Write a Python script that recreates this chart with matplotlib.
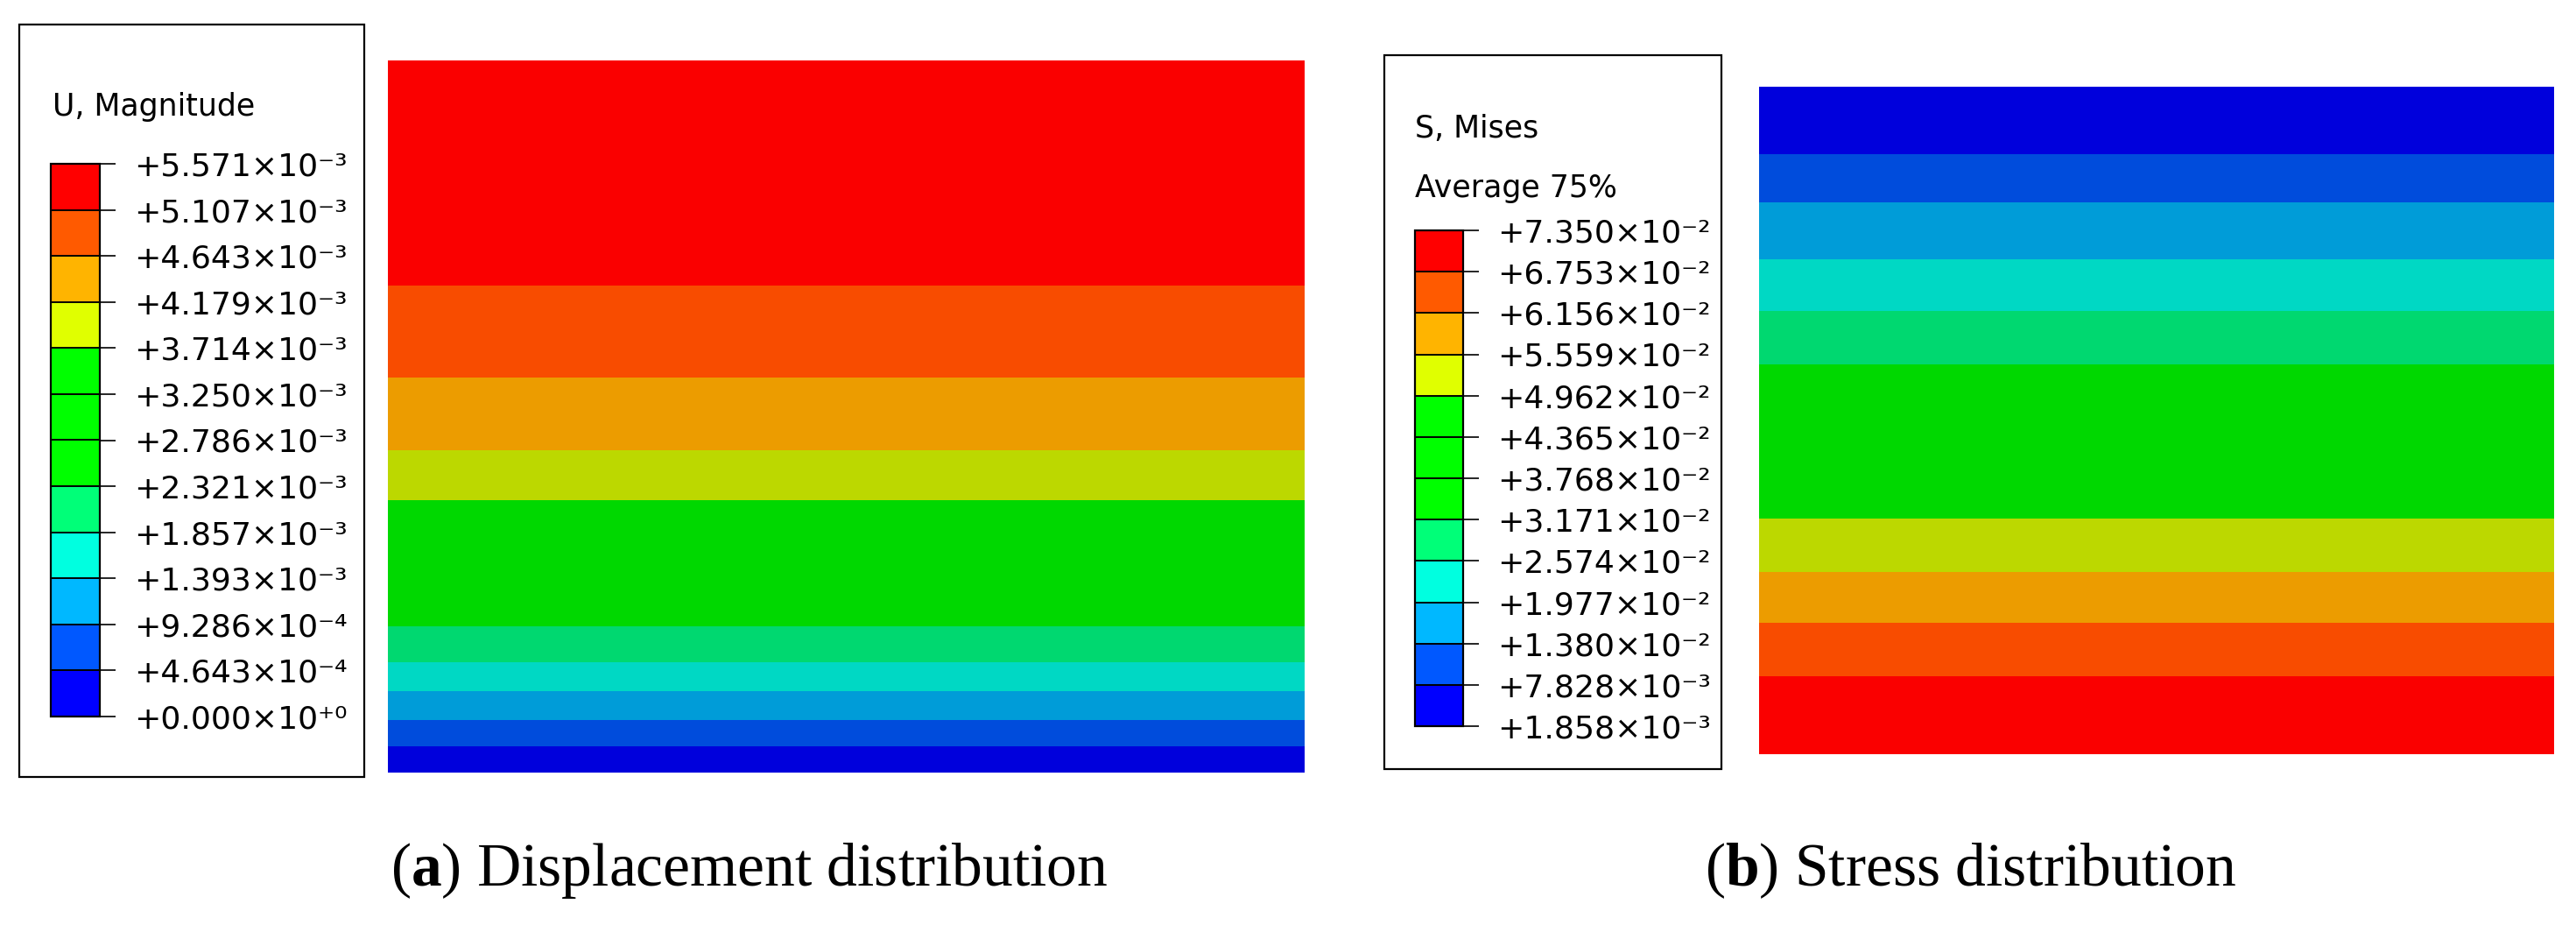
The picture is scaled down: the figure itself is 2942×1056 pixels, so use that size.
import numpy as np
import matplotlib
matplotlib.use("Agg")
import matplotlib.pyplot as plt
from matplotlib.colors import ListedColormap, BoundaryNorm
from matplotlib.cm import ScalarMappable
from matplotlib.patches import Rectangle

plt.rcParams['font.family'] = ['DejaVu Sans']
plt.rcParams['mathtext.fontset'] = 'custom'
plt.rcParams['mathtext.rm'] = 'Liberation Serif'
plt.rcParams['mathtext.bf'] = 'Liberation Serif:bold'

# contour levels shown in the two legends (bottom -> top)
u_levels = [0.0, 4.643e-4, 9.286e-4, 1.393e-3, 1.857e-3, 2.321e-3, 2.786e-3,
            3.250e-3, 3.714e-3, 4.179e-3, 4.643e-3, 5.107e-3, 5.571e-3]
s_levels = [1.858e-3, 7.828e-3, 1.380e-2, 1.977e-2, 2.574e-2, 3.171e-2, 3.768e-2,
            4.365e-2, 4.962e-2, 5.559e-2, 6.156e-2, 6.753e-2, 7.350e-2]

# bands of the displacement field over the model height (0 = bottom, 1 = top)
u_band_edges = [0.0, 0.0371, 0.0735, 0.1140, 0.1544, 0.2057, 0.3823,
                0.4525, 0.5550, 0.6844, 1.0]
u_band_values = [2.3e-4, 7.0e-4, 1.16e-3, 1.63e-3, 2.09e-3, 3.0e-3,
                 3.95e-3, 4.41e-3, 4.88e-3, 5.34e-3]

# bands of the Mises stress field over the model height
s_band_edges = [0.0, 0.1173, 0.1966, 0.2732, 0.3525, 0.5843, 0.6636,
                0.7416, 0.8265, 0.8996, 1.0]
s_band_values = [7.05e-2, 6.45e-2, 5.86e-2, 5.26e-2, 3.77e-2, 2.87e-2,
                 2.28e-2, 1.68e-2, 1.08e-2, 4.8e-3]

# legend (full brightness) and shaded contour colours, low -> high
legend_colors = ['#0000FF', '#0058FF', '#00B8FF', '#00FFE0', '#00FF78', '#00FF00',
                 '#00FF00', '#00FF00', '#E0FF00', '#FFB400', '#FF5A00', '#FF0000']
shade_colors = ['#0000DC', '#004CDC', '#009CD8', '#00D8C4', '#00D870', '#00D800',
                '#00D800', '#00D800', '#BCD800', '#EC9C00', '#F84C00', '#FA0000']

SUP = str.maketrans("+-0123456789", "⁺⁻⁰¹²³⁴⁵⁶⁷⁸⁹")

W, H = 2942, 1056
fig = plt.figure(figsize=(W / 100, H / 100), dpi=100)


def px_rect(x0, y0, x1, y1):
    return [x0 / W, 1 - y1 / H, (x1 - x0) / W, (y1 - y0) / H]


def sci_label(v):
    e = 0 if v == 0 else int(np.floor(np.log10(v)))
    m = v / 10.0 ** e
    return f"+{m:.3f}×10" + f"{e:+d}".translate(SUP)


def contour_panel(rect, edges, values, levels):
    ax = fig.add_axes(px_rect(*rect))
    norm = BoundaryNorm(levels, len(shade_colors))
    C = np.array(values).reshape(-1, 1)
    ax.pcolormesh([0, 1], edges, C, cmap=ListedColormap(shade_colors), norm=norm)
    ax.set_xlim(0, 1)
    ax.set_ylim(0, 1)
    ax.axis('off')
    return ax


def legend_panel(box, bar, levels, titles):
    fig.patches.append(Rectangle((box[0] / W, 1 - box[3] / H),
                                 (box[2] - box[0]) / W, (box[3] - box[1]) / H,
                                 transform=fig.transFigure, fill=False,
                                 edgecolor='black', linewidth=1.6))
    for txt, tx, ty in titles:
        fig.text(tx / W, 1 - ty / H, txt, fontsize=25, ha='left', va='baseline')
    cax = fig.add_axes(px_rect(*bar))
    sm = ScalarMappable(norm=BoundaryNorm(levels, len(legend_colors)),
                        cmap=ListedColormap(legend_colors))
    cb = fig.colorbar(sm, cax=cax, ticks=levels, drawedges=True)
    cb.outline.set_linewidth(1.6)
    cb.dividers.set_linewidth(1.4)
    cb.ax.set_yticklabels([sci_label(v) for v in levels])
    cb.ax.tick_params(length=13, width=1.2, pad=15, labelsize=26, direction='out')
    return cb


legend_panel((22, 28, 416, 887), (58, 187, 114, 818), u_levels,
             [("U, Magnitude", 60, 132)])
contour_panel((443, 69, 1490, 882), u_band_edges, u_band_values, u_levels)

legend_panel((1581, 63, 1966, 878), (1616, 263, 1671, 829), s_levels,
             [("S, Mises", 1616, 157), ("Average 75%", 1616, 225)])
contour_panel((2009, 99, 2917, 861), s_band_edges, s_band_values, s_levels)

fig.text(856 / W, 1 - 994 / H, r"($\mathbf{a}$) Displacement distribution",
         ha='center', va='center', fontsize=50, family='Liberation Serif')
fig.text(2251 / W, 1 - 994 / H, r"($\mathbf{b}$) Stress distribution",
         ha='center', va='center', fontsize=50, family='Liberation Serif')

fig.savefig("out.png", dpi=100)
